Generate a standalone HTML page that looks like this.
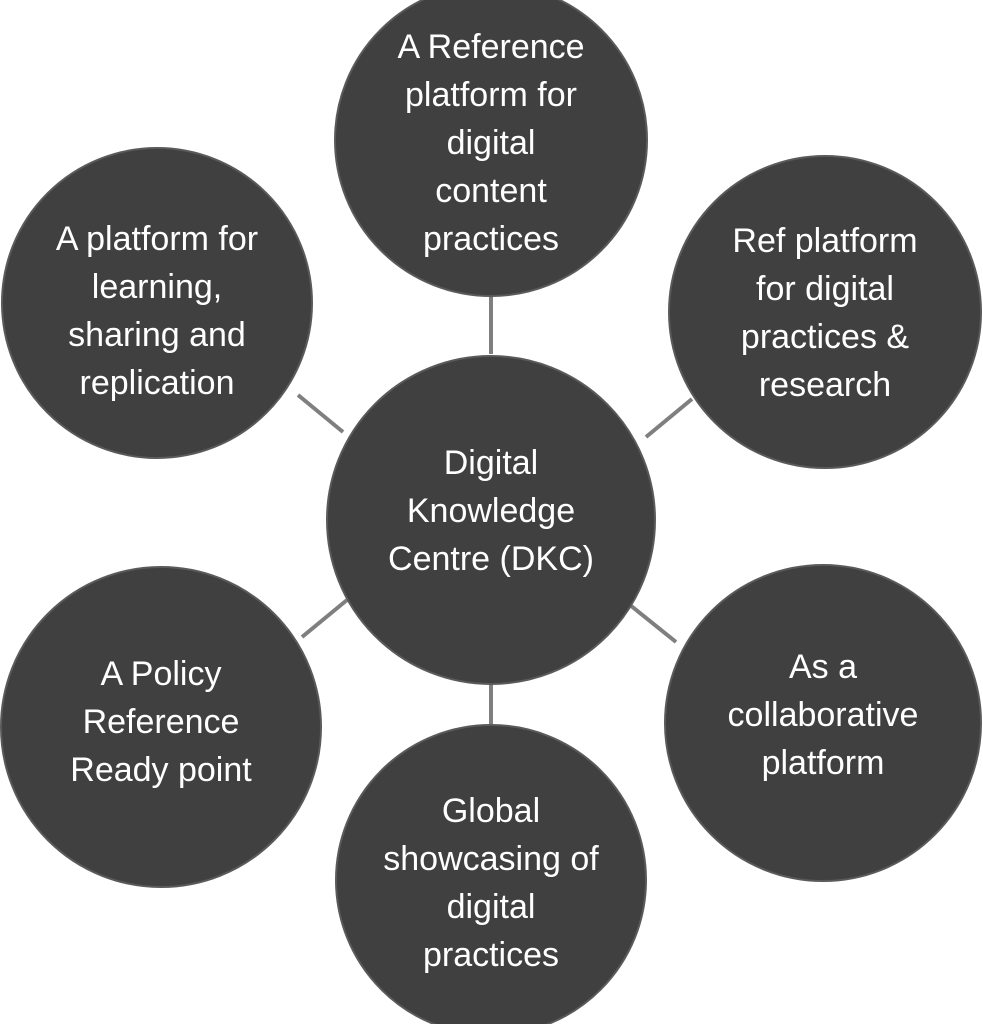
<!DOCTYPE html>
<html><head><style>body{margin:0;background:#fff}</style></head><body>
<svg width="983" height="1024" viewBox="0 0 983 1024" xmlns="http://www.w3.org/2000/svg" font-family="Liberation Sans, sans-serif" font-size="34" fill="#fff" text-anchor="middle">
<g stroke="#7f7f7f" stroke-width="4">
<line x1="491" y1="296" x2="491" y2="354"/>
<line x1="646" y1="437" x2="692" y2="399"/>
<line x1="298" y1="395" x2="343" y2="432"/>
<line x1="302" y1="637" x2="347" y2="600"/>
<line x1="630" y1="605" x2="676" y2="642"/>
<line x1="491" y1="670" x2="491" y2="730"/>
</g>
<g fill="#404040" stroke="#5a5a5a" stroke-width="2">
<circle cx="491" cy="520" r="164"/>
<circle cx="491" cy="140" r="156"/>
<circle cx="825" cy="312" r="156"/>
<circle cx="157" cy="303" r="155"/>
<circle cx="161" cy="727" r="160"/>
<circle cx="823" cy="723" r="158"/>
<circle cx="491" cy="880" r="155"/>
</g>
<text x="491" y="474">Digital</text><text x="491" y="522">Knowledge</text><text x="491" y="570">Centre (DKC)</text>
<text x="491" y="58">A Reference</text><text x="491" y="106">platform for</text><text x="491" y="154">digital</text><text x="491" y="202">content</text><text x="491" y="250">practices</text>
<text x="825" y="252">Ref platform</text><text x="825" y="300">for digital</text><text x="825" y="348">practices &amp;</text><text x="825" y="396">research</text>
<text x="157" y="250">A platform for</text><text x="157" y="298">learning,</text><text x="157" y="346">sharing and</text><text x="157" y="394">replication</text>
<text x="161" y="685">A Policy</text><text x="161" y="733">Reference</text><text x="161" y="781">Ready point</text>
<text x="823" y="678">As a</text><text x="823" y="726">collaborative</text><text x="823" y="774">platform</text>
<text x="491" y="822">Global</text><text x="491" y="870">showcasing of</text><text x="491" y="918">digital</text><text x="491" y="966">practices</text>
</svg>
</body></html>
